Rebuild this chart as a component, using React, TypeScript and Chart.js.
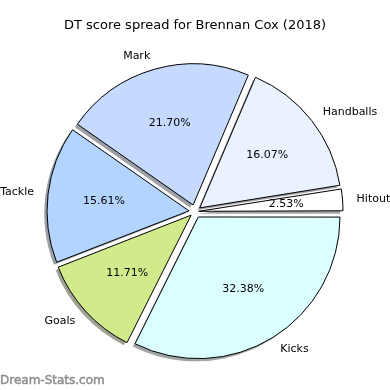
import React, { useEffect, useRef } from 'react';
import { Chart, registerables } from 'chart.js';

Chart.register(...registerables);

// Data (clockwise from 3 o'clock, as Chart.js draws)
const categories = ['Kicks', 'Goals', 'Tackle', 'Mark', 'Handballs', 'Hitout'];
const shares = [32.38, 11.71, 15.61, 21.7, 16.07, 2.53];
const sliceColors = ['#dbffff', '#d1eb8c', '#b3d4ff', '#c6d9ff', '#eaf1ff', '#ffffff'];
const titleText = 'DT score spread for Brennan Cox (2018)';
const watermarkText = 'Dream-Stats.com';

const EXPLODE = 7;
const RADIUS = 141;
const SHADOW = 2.8;
const FONT = "'DejaVu Sans', 'Noto Sans', sans-serif";

const total = shares.reduce((a, b) => a + b, 0);

function offsetFor(index: number): number {
  const circ = (shares[index] / total) * Math.PI * 2;
  const fix = 1 - Math.sin(Math.min(Math.PI, circ));
  return (EXPLODE * 4) / (1 + fix);
}

function hexToRgb(hex: string): number[] {
  const h = hex.replace('#', '');
  return [0, 2, 4].map((i) => parseInt(h.slice(i, i + 2), 16));
}

const pieExtras = {
  id: 'pieExtras',
  beforeDatasetsDraw(chart: any) {
    const ctx = chart.ctx;
    const arcs = chart.getDatasetMeta(0).data;
    ctx.save();
    arcs.forEach((arc: any, i: number) => {
      const { x, y, startAngle, endAngle, outerRadius } = arc.getProps(
        ['x', 'y', 'startAngle', 'endAngle', 'outerRadius'],
        true
      );
      const mid = (startAngle + endAngle) / 2;
      const cx = x + Math.cos(mid) * EXPLODE - SHADOW;
      const cy = y + Math.sin(mid) * EXPLODE + SHADOW;
      const [r, g, b] = hexToRgb(sliceColors[i]).map((v) => Math.round(v * 0.3));
      ctx.fillStyle = `rgba(${r},${g},${b},0.5)`;
      ctx.beginPath();
      ctx.moveTo(cx, cy);
      ctx.arc(cx, cy, outerRadius, startAngle, endAngle);
      ctx.closePath();
      ctx.fill();
    });
    ctx.restore();
  },
  afterDatasetsDraw(chart: any) {
    const ctx = chart.ctx;
    const arcs = chart.getDatasetMeta(0).data;
    ctx.save();
    ctx.fillStyle = '#000';
    ctx.font = `11px ${FONT}`;
    ctx.textBaseline = 'middle';
    arcs.forEach((arc: any, i: number) => {
      const { x, y, startAngle, endAngle, outerRadius } = arc.getProps(
        ['x', 'y', 'startAngle', 'endAngle', 'outerRadius'],
        true
      );
      const mid = (startAngle + endAngle) / 2;
      const ex = x + Math.cos(mid) * EXPLODE;
      const ey = y + Math.sin(mid) * EXPLODE;
      const lx = ex + 1.1 * outerRadius * Math.cos(mid);
      const ly = ey + 1.1 * outerRadius * Math.sin(mid);
      ctx.textAlign = lx > x ? 'left' : 'right';
      ctx.fillText(categories[i], lx, ly);
      const px = ex + 0.6 * outerRadius * Math.cos(mid);
      const py = ey + 0.6 * outerRadius * Math.sin(mid);
      ctx.textAlign = 'center';
      ctx.fillText(shares[i].toFixed(2) + '%', px, py);
    });
    ctx.font = `12px ${FONT}`;
    ctx.fillStyle = '#8e8e8e';
    ctx.strokeStyle = '#8e8e8e';
    ctx.lineWidth = 0.5;
    ctx.textAlign = 'left';
    ctx.textBaseline = 'alphabetic';
    ctx.fillText(watermarkText, 0, 384);
    ctx.strokeText(watermarkText, 0, 384);
    ctx.restore();
  },
};

export default function App() {
  const canvasRef = useRef<HTMLCanvasElement | null>(null);

  useEffect(() => {
    if (!canvasRef.current) return;
    const chart = new Chart(canvasRef.current, {
      type: 'pie',
      data: {
        labels: categories,
        datasets: [
          {
            data: shares,
            backgroundColor: sliceColors,
            borderColor: '#000000',
            borderWidth: 1,
            radius: RADIUS,
            offset: (c: any) => offsetFor(c.dataIndex),
            hoverOffset: 0,
            clip: false,
          } as any,
        ],
      },
      options: {
        animation: false,
        responsive: false,
        devicePixelRatio: 1,
        rotation: 90,
        events: [],
        layout: { padding: { left: 2, right: 2, top: 0, bottom: 0 } },
        plugins: {
          legend: { display: false },
          tooltip: { enabled: false },
          title: {
            display: true,
            text: titleText,
            color: '#000000',
            font: { family: FONT, size: 13, weight: 'normal', lineHeight: 1.2 },
            padding: { top: 17.6, bottom: 0 },
          },
        },
      } as any,
      plugins: [pieExtras],
    });
    return () => chart.destroy();
  }, []);

  return (
    <div style={{ position: 'absolute', left: 0, top: 0, width: 390, height: 390, background: '#fff' }}>
      <canvas ref={canvasRef} width={390} height={390} />
    </div>
  );
}
